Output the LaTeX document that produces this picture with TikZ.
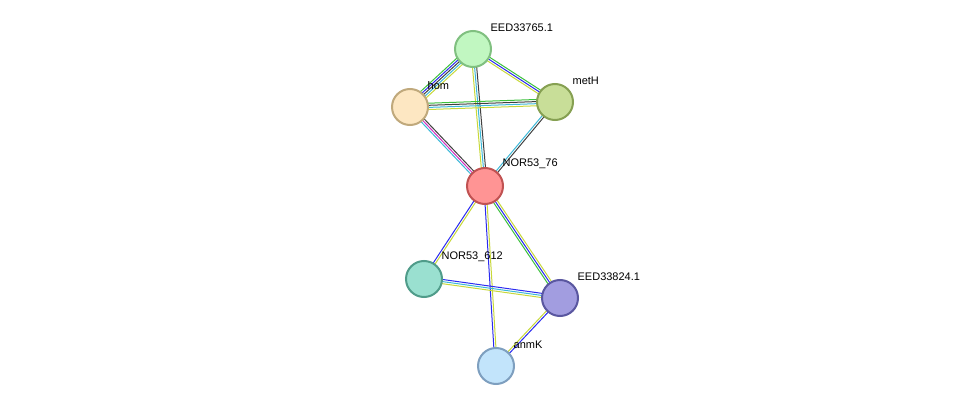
\documentclass[tikz,border=0pt]{standalone}
\usepackage{fontspec}
\setmainfont{Liberation Sans}
\usetikzlibrary{calc,backgrounds}
\definecolor{eyel}{HTML}{C8D83A}
\definecolor{eblu}{HTML}{2B2BF0}
\definecolor{egrn}{HTML}{3CC03C}
\definecolor{ecya}{HTML}{3CB8D8}
\definecolor{edrk}{HTML}{404040}
\definecolor{emag}{HTML}{D030C0}
\definecolor{fa}{HTML}{C1F7C1}\definecolor{da}{HTML}{80C080}
\definecolor{fb}{HTML}{FDE7C2}\definecolor{db}{HTML}{C0A97C}
\definecolor{fc}{HTML}{C8DE98}\definecolor{dc}{HTML}{86A052}
\definecolor{fd}{HTML}{FF9494}\definecolor{dd}{HTML}{C05252}
\definecolor{fe}{HTML}{9AE0D0}\definecolor{de}{HTML}{509C8A}
\definecolor{ff}{HTML}{A29DE0}\definecolor{df}{HTML}{5A57A0}
\definecolor{fg}{HTML}{C2E4FB}\definecolor{dg}{HTML}{7E9FBF}
\newcommand{\stredge}[4]{% from, to, count, colours
  \foreach \c [count=\i] in {#4}{
    \pgfmathsetmacro\off{(\i-(#3+1)/2)*2.1}
    \draw[color=\c, line width=1pt] ($(#1)!\off pt!90:(#2)$) -- ($(#2)!\off pt!-90:(#1)$);
  }}
\begin{document}
\begin{tikzpicture}[x=1pt, y=-1pt, font=\fontsize{11}{13}\selectfont,
  prot/.style={circle, minimum size=36pt, inner sep=0pt, line width=2pt},
  lbl/.style={anchor=south west, inner sep=0pt, xshift=4pt, yshift=4pt}]
\useasboundingbox (0,0) rectangle (975,412);
%Proteine
\node[prot, fill=fa, draw=da, label={[lbl]north east:EED33765.1}] (eed765) at (473,49) {};
\node[prot, fill=fb, draw=db, label={[lbl]north east:hom}] (hom) at (410,107) {};
\node[prot, fill=fc, draw=dc, label={[lbl]north east:metH}] (meth) at (555,102) {};
\node[prot, fill=fd, draw=dd, label={[lbl]north east:NOR53\_76}] (nor76) at (485,186) {};
\node[prot, fill=fe, draw=de, label={[lbl]north east:NOR53\_612}] (nor612) at (424,279) {};
\node[prot, fill=ff, draw=df, label={[lbl]north east:EED33824.1}] (eed824) at (560,298) {};
\node[prot, fill=fg, draw=dg, label={[lbl]north east:anmK}] (anmk) at (496,366) {};
%Kanten
\begin{scope}[on background layer]
\stredge{eed765}{hom}{5}{egrn,eblu,edrk,ecya,eyel}
\stredge{eed765}{meth}{3}{eyel,eblu,egrn}
\stredge{eed765}{nor76}{3}{eyel,ecya,edrk}
\stredge{hom}{meth}{4}{eyel,ecya,edrk,egrn}
\stredge{hom}{nor76}{3}{ecya,emag,edrk}
\stredge{meth}{nor76}{2}{ecya,edrk}
\stredge{nor76}{nor612}{2}{eblu,eyel}
\stredge{nor76}{anmk}{2}{eblu,eyel}
\stredge{nor76}{eed824}{3}{egrn,eblu,eyel}
\stredge{nor612}{eed824}{3}{eyel,ecya,eblu}
\stredge{eed824}{anmk}{2}{eyel,eblu}
\end{scope}
\end{tikzpicture}
\end{document}
